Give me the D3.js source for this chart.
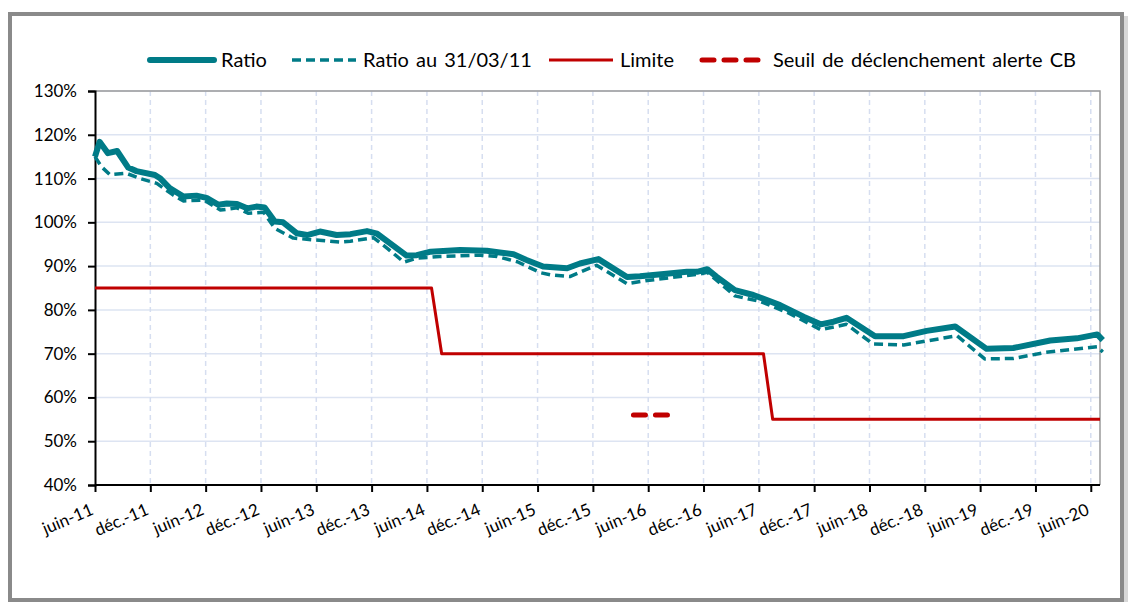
<!DOCTYPE html>
<html>
<head>
<meta charset="utf-8">
<script src="https://cdn.jsdelivr.net/npm/d3@7/dist/d3.min.js"></script>
<style>
	body { margin: 0; background: #fff; }
	svg text { font-family: Lato, 'Open Sans', sans-serif; fill: #000; }
</style>
</head>
<body>
<svg id="chart" width="1130" height="602"></svg>
<script>
'use strict';

// months counted from juin-11
var tickLabels = ['juin-11', 'déc.-11', 'juin-12', 'déc.-12', 'juin-13', 'déc.-13', 'juin-14', 'déc.-14',
	'juin-15', 'déc.-15', 'juin-16', 'déc.-16', 'juin-17', 'déc.-17', 'juin-18', 'déc.-18', 'juin-19',
	'déc.-19', 'juin-20'];
var yTicks = [40, 50, 60, 70, 80, 90, 100, 110, 120, 130];

var ratioMonths = [0, 0.5, 1.4, 2.4, 3.6, 4.5, 6.5, 7.1, 8.1, 9.6, 11, 12.1, 13.4, 14.3, 15.4, 16.5, 17.5,
	18.4, 19.5, 20.4, 21.9, 23, 24.4, 26.2, 27.7, 29.5, 30.6, 33.8, 34.9, 36.4, 39.6, 42.5, 43.9, 45.4,
	46.8, 48.6, 51.2, 52.6, 54.6, 57.7, 59.1, 61.7, 64.2, 65.3, 66.4, 67.4, 69.4, 71.4, 74.3, 76.9, 78.7,
	80.1, 81.5, 84.6, 87.7, 90.2, 93.3, 96.7, 99.6, 103.6, 106.5, 108.7, 109.3];
var ratioValues = [115, 118.4, 115.8, 116.3, 112.5, 111.7, 110.8, 110, 107.8, 105.9, 106.1, 105.6, 104,
	104.3, 104.2, 103.2, 103.6, 103.4, 100.2, 100, 97.5, 97.1, 97.9, 97.1, 97.3, 98, 97.4, 92.4, 92.5,
	93.3, 93.7, 93.5, 93.1, 92.7, 91.4, 89.9, 89.5, 90.6, 91.6, 87.5, 87.7, 88.2, 88.7, 88.7, 89.3, 87.6,
	84.5, 83.4, 81.1, 78.4, 76.7, 77.3, 78.2, 74, 74, 75.2, 76.2, 71.1, 71.3, 73, 73.5, 74.4, 73.1];

var ratio0311Months = [0, 0.7, 1.6, 3.4, 4.9, 6.7, 8.5, 9.6, 11.8, 13.6, 15.4, 16.6, 18.3, 19.5, 21.5,
	23.7, 26.6, 27.7, 30.2, 31.8, 33.5, 34.9, 37.4, 41.8, 43.6, 45.8, 48.3, 49.4, 51.5, 54.4, 57.7, 59.9,
	65.6, 66.4, 69.4, 72.2, 75.1, 78.7, 81.5, 84.4, 87.7, 93.5, 96.5, 99.6, 103.1, 108.7, 109.3];
var ratio0311Values = [115, 112.7, 110.9, 111.2, 110, 108.9, 106.2, 104.9, 105.1, 102.8, 103.3, 102.1,
	102.3, 98.6, 96.4, 96, 95.5, 95.7, 96.5, 93.9, 90.9, 91.8, 92.2, 92.5, 92.2, 91, 88.5, 88, 87.6, 90.2,
	86, 86.7, 88.2, 88.6, 83.2, 81.9, 79.4, 75.5, 76.7, 72.2, 72, 74.1, 68.8, 68.9, 70.3, 71.6, 70.4];

var limitMonths = [0, 36.5, 37.6, 72.5, 73.5, 109];
var limitValues = [85, 85, 70, 70, 55, 55];

var alertMonths = [58.4, 62.6];
var alertValues = [56, 56];

var teal = '#007b87';
var red = '#c00000';

var svg = d3.select('svg#chart');

// outer frame
svg.append('rect')
	.attr('x', 10).attr('y', 14).attr('width', 1112).attr('height', 586)
	.attr('fill', 'none').attr('stroke', '#8a8a8a').attr('stroke-width', 4);
svg.append('rect')
	.attr('x', 1124).attr('y', 16).attr('width', 4).attr('height', 586)
	.attr('fill', '#d8d8d8');

var x = d3.scaleLinear().domain([0, 109]).range([95, 1100]);
var y = d3.scaleLinear().domain([40, 130]).range([485, 91]);

var zip = function(xs, ys) {
	return xs.map(function(m, i) {
		return { m: m, v: ys[i] };
	});
};

// grid
svg.append('g').selectAll('line')
	.data(yTicks.slice(1))
	.enter()
	.append('line')
	.attr('x1', 95).attr('x2', 1100)
	.attr('y1', function(d) { return y(d); })
	.attr('y2', function(d) { return y(d); })
	.style('stroke', '#dde4f2')
	.style('stroke-width', 1.5);

svg.append('g').selectAll('line')
	.data(tickLabels.slice(1))
	.enter()
	.append('line')
	.attr('x1', function(d, i) { return x((i + 1) * 6); })
	.attr('x2', function(d, i) { return x((i + 1) * 6); })
	.attr('y1', 91).attr('y2', 485)
	.style('stroke', '#d6def0')
	.style('stroke-width', 1.5)
	.style('stroke-dasharray', '5,4');

// plot box top and right
svg.append('path')
	.attr('d', 'M95,91H1100V485')
	.attr('fill', 'none')
	.attr('stroke', '#9a9a9a')
	.attr('stroke-width', 1.5);

// axes
var yAxis = d3.axisLeft(y)
	.tickValues(yTicks)
	.tickSize(7)
	.tickPadding(11)
	.tickFormat(function(d) { return d + '%'; });
var gy = svg.append('g').attr('transform', 'translate(95,0)').call(yAxis);
gy.selectAll('text').style('font-size', '17px').attr('fill', '#000');
gy.selectAll('line, path').attr('stroke', '#000').attr('stroke-width', 2);

var xAxis = d3.axisBottom(x)
	.tickValues(d3.range(0, 109, 6))
	.tickSize(7)
	.tickFormat(function(d) { return tickLabels[d / 6]; });
var gx = svg.append('g').attr('transform', 'translate(0,485)').call(xAxis);
gx.selectAll('line, path').attr('stroke', '#000').attr('stroke-width', 2);
gx.select('.domain').attr('d', 'M95,0H1100');
gx.selectAll('text')
	.style('font-size', '17px')
	.attr('fill', '#000')
	.attr('text-anchor', 'end')
	.attr('y', 0).attr('dy', 0)
	.attr('transform', 'translate(-1,29) rotate(-23)');

// series
var line = d3.line()
	.x(function(d) { return x(d.m); })
	.y(function(d) { return y(d.v); });

var series = [
	{ data: zip(limitMonths, limitValues), color: red, width: 3, dash: null, cap: 'butt' },
	{ data: zip(ratio0311Months, ratio0311Values), color: teal, width: 3.5, dash: '9,5', cap: 'butt' },
	{ data: zip(ratioMonths, ratioValues), color: teal, width: 6, dash: null, cap: 'butt' },
	{ data: zip(alertMonths, alertValues), color: red, width: 5, dash: '12,10', cap: 'round' }
];

svg.append('g').selectAll('path')
	.data(series)
	.enter()
	.append('path')
	.attr('d', function(d) { return line(d.data); })
	.attr('fill', 'none')
	.attr('stroke', function(d) { return d.color; })
	.attr('stroke-width', function(d) { return d.width; })
	.attr('stroke-dasharray', function(d) { return d.dash; })
	.attr('stroke-linecap', function(d) { return d.cap; })
	.attr('stroke-linejoin', 'round');

// legend
var legend = [
	{ name: 'Ratio', x: 150, color: teal, width: 6, dash: null, cap: 'round' },
	{ name: 'Ratio au 31/03/11', x: 292, color: teal, width: 3.5, dash: '9,5', cap: 'butt' },
	{ name: 'Limite', x: 549, color: red, width: 3, dash: null, cap: 'butt' },
	{ name: 'Seuil de déclenchement alerte CB', x: 702, color: red, width: 5, dash: '12,10', cap: 'round' }
];

var lg = svg.append('g').selectAll('g')
	.data(legend)
	.enter()
	.append('g')
	.attr('transform', function(d) { return 'translate(' + d.x + ',60)'; });
lg.append('line')
	.attr('x1', 0).attr('x2', 64)
	.attr('stroke', function(d) { return d.color; })
	.attr('stroke-width', function(d) { return d.width; })
	.attr('stroke-dasharray', function(d) { return d.dash; })
	.attr('stroke-linecap', function(d) { return d.cap; });
lg.append('text')
	.attr('x', 71)
	.attr('dy', '0.35em')
	.style('font-size', '20px')
	.style('word-spacing', '2px')
	.text(function(d) { return d.name; });
</script>
</body>
</html>
